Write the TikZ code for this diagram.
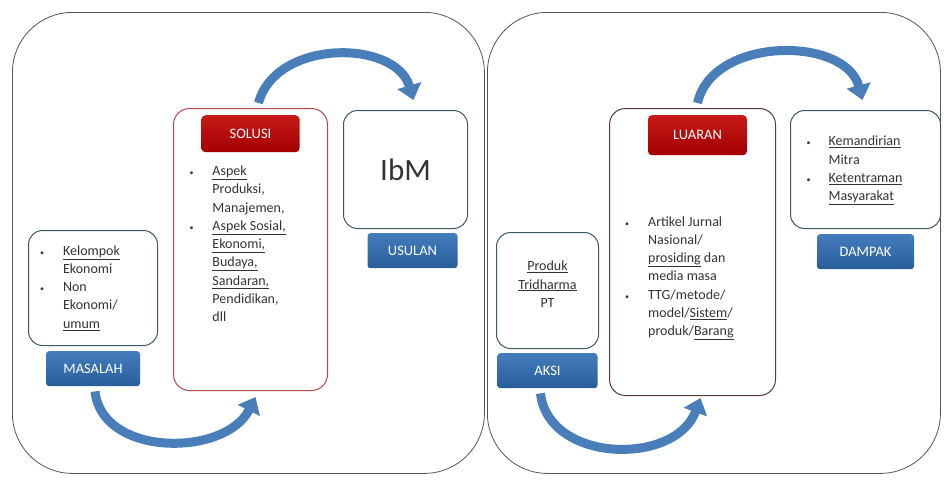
\documentclass[tikz,border=0pt]{standalone}
\usepackage{fontspec}
\setmainfont{Carlito}
\usepackage{tikz}
\usetikzlibrary{arrows.meta}
\usetikzlibrary{positioning, calc}
\definecolor{panelline}{HTML}{555555}
\definecolor{boxline}{HTML}{3C5A66}
\definecolor{solred}{HTML}{B8474A}
\definecolor{lualine}{HTML}{5A3A34}
\definecolor{tagblue}{HTML}{2F6EB5}
\definecolor{tagred}{HTML}{C00000}
\definecolor{textgray}{HTML}{333333}
\definecolor{arrowblue}{HTML}{4A7EBB}
\tikzstyle{panel} = [draw=panelline,line width=0.8pt,rectangle,rounded corners=60pt,anchor=north west]
\tikzstyle{block} = [draw=boxline,line width=1pt,rectangle,rounded corners=14pt,anchor=north west,text=textgray,font=\fontsize{14}{18.3}\selectfont]
\tikzstyle{redblock} = [draw=solred,line width=1pt,rectangle,rounded corners=16pt,anchor=north west]
\tikzstyle{bluetag} = [rectangle,rounded corners=3pt,top color=tagblue!90!white,bottom color=tagblue!85!black,text=white,font=\fontsize{14.5}{16}\selectfont,minimum width=94pt,minimum height=35pt,inner sep=0pt]
\tikzstyle{redtag} = [rectangle,rounded corners=4pt,top color=tagred!90!white,bottom color=tagred!85!black,text=white,font=\fontsize{14.5}{16}\selectfont,minimum width=98pt,minimum height=37pt,inner sep=0pt]
\tikzstyle{list} = [anchor=north west,inner sep=0pt,text=textgray,font=\fontsize{14}{18.3}\selectfont]
\tikzstyle{connector} = [line width=9pt,draw=arrowblue,-{Triangle[width=24pt,length=15pt]}]
\newcommand{\bul}{{\fontsize{8}{8}\selectfont\textbullet}}
\newcommand{\undl}[1]{\smash{\underline{#1}}}

\begin{document}
\begin{tikzpicture}[x=1pt,y=-1pt]
	\useasboundingbox (0,0) rectangle (944,479);

	  \node[panel, minimum width=472pt, minimum height=461pt] (leftpanel) at (12,12) {};
	  \node[panel, minimum width=453pt, minimum height=461pt] (rightpanel) at (487,12) {};

	  % left side
	  \node[block, minimum width=129pt, minimum height=115pt] (kel) at (28,230) {
	  	\begin{tabular}{@{}l@{\hspace{19pt}}l@{\hspace{26pt}}}
	  		\bul & \undl{Kelompok}\\
	  		     & Ekonomi\\
	  		\bul & Non\\
	  		     & Ekonomi/\\
	  		     & \undl{umum}
	  	\end{tabular}
	  };

	  \node[bluetag, below = 5pt of kel] (masalah) {MASALAH};

	  \node[redblock, minimum width=154pt, minimum height=282pt] (solusi) at (173,108) {};

	  \node[redtag, below = 7pt of solusi.north] (sollbl) {SOLUSI};

	  \node[list, below right = 10pt and -12pt of sollbl.south west] (sollist) {
	  	\begin{tabular}{@{}l@{\hspace{19pt}}l@{}}
	  		\bul & \undl{Aspek}\\
	  		     & Produksi,\\
	  		     & Manajemen,\\
	  		\bul & \undl{Aspek Sosial,}\\
	  		     & \undl{Ekonomi,}\\
	  		     & \undl{Budaya,}\\
	  		     & \undl{Sandaran,}\\
	  		     & Pendidikan,\\
	  		     & dll
	  	\end{tabular}
	  };

	  \node[block, minimum width=124pt, minimum height=118pt, font=\fontsize{31}{31}\selectfont] (ibm) at (343,110) {IbM};

	  \node[bluetag, below = 4pt of ibm, xshift=7pt, minimum width=90pt] (usulan) {USULAN};

	  % right side
	  \node[block, minimum width=102pt, minimum height=116pt] (produk) at (496,232) {
	  	\begin{tabular}{@{}c@{}}
	  		\undl{Produk}\\
	  		\undl{Tridharma}\\
	  		PT\\[10pt]
	  	\end{tabular}
	  };

	  \node[bluetag, below = 4pt of produk, minimum width=100pt] (aksi) {AKSI};

	  \node[redblock, draw=lualine, minimum width=166pt, minimum height=287pt] (luaran) at (609,108) {};

	  \node[redtag, below = 7pt of luaran.north, xshift=5pt, minimum width=99pt, minimum height=40pt] (luarlbl) {LUARAN};

	  \node[list] (luarlist) at (625,213) {
	  	\begin{tabular}{@{}l@{\hspace{19pt}}l@{}}
	  		\bul & Artikel Jurnal\\
	  		     & Nasional/\\
	  		     & \undl{prosiding} dan\\
	  		     & media masa\\
	  		\bul & TTG/metode/\\
	  		     & model/\undl{Sistem}/\\
	  		     & produk/\undl{Barang}
	  	\end{tabular}
	  };

	  \node[block, minimum width=150pt, minimum height=118pt] (dampak) at (790,110) {
	  	\begin{tabular}{@{}l@{\hspace{18pt}}l@{\hspace{22pt}}}
	  		\bul & \undl{Kemandirian}\\
	  		     & Mitra\\
	  		\bul & \undl{Ketentraman}\\
	  		     & \undl{Masyarakat}
	  	\end{tabular}
	  };

	  \node[bluetag, below = 5pt of dampak, minimum width=97pt] (dampaklbl) {DAMPAK};

	% now link the nodes

	\draw [connector] ($(masalah.south)+(2,5)$) .. controls +(7,66) and +(-30,60) .. ($(solusi.south)+(5,6)$);
	\draw [connector] ($(solusi.north)+(8,-5)$) .. controls +(17,-64) and +(-18,-61) .. ($(ibm.north)+(8,-10)$);
	\draw [connector] ($(aksi.south)+(-7,5)$) .. controls +(8,70) and +(-25,68) .. ($(luaran.south)+(8,2)$);
	\draw [connector] ($(luaran.north)+(5,-5)$) .. controls +(15,-67) and +(-17,-64) .. ($(dampak.north)+(-3,-10)$);

  \end{tikzpicture}
\end{document}
